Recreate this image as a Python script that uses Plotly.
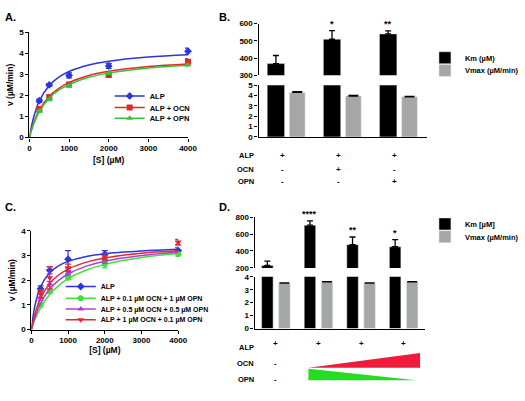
import plotly.graph_objects as go

W, H = 525, 401

# ---------------- data ----------------
S_points = [250, 500, 1000, 2000, 4000]
S_fit = [0, 100, 250, 500, 750, 1000, 1500, 2000, 3000, 4000]

# Panel A
A_alp = [1.75, 2.5, 2.95, 3.4, 4.1]
A_alp_err = [0.08, 0.06, 0.12, 0.12, 0.15]
A_ocn = [1.35, 1.92, 2.52, 2.97, 3.6]
A_ocn_err = [0.08, 0.08, 0.06, 0.08, 0.15]
A_opn = [1.25, 1.8, 2.45, 3.05, 3.45]
A_opn_err = [0.05, 0.05, 0.05, 0.05, 0.05]
A_alp_fit = [0, 0.91, 1.74, 2.47, 2.88, 3.14, 3.45, 3.63, 3.83, 3.94]
A_ocn_fit = [0, 0.65, 1.30, 1.96, 2.35, 2.62, 2.95, 3.15, 3.38, 3.50]
A_opn_fit = [0, 0.60, 1.23, 1.87, 2.26, 2.52, 2.86, 3.06, 3.30, 3.43]

# Panel B
B_groups = ["ALP", "ALP + OCN", "ALP + OPN"]
B_km = [368, 509, 540]
B_km_err = [47, 50, 18]
B_vmax = [4.3, 3.95, 3.88]
B_vmax_err = [0.08, 0.06, 0.04]
B_sig = ["", "*", "**"]
B_ocn_row = ["-", "+", "-"]
B_opn_row = ["-", "-", "+"]
B_alp_row = ["+", "+", "+"]

# Panel C
C_alp = [1.65, 2.4, 2.85, 3.05, 3.2]
C_alp_err = [0.12, 0.15, 0.35, 0.15, 0.12]
C_g = [1.0, 1.55, 2.1, 2.65, 3.05]
C_g_err = [0.08, 0.08, 0.08, 0.15, 0.08]
C_p = [1.3, 1.85, 2.3, 2.8, 3.45]
C_p_err = [0.12, 0.1, 0.1, 0.12, 0.12]
C_r = [1.45, 2.1, 2.5, 2.95, 3.55]
C_r_err = [0.15, 0.45, 0.15, 0.12, 0.1]
C_alp_fit = [0, 0.99, 1.73, 2.30, 2.59, 2.76, 2.96, 3.07, 3.18, 3.25]
C_g_fit = [0, 0.41, 0.88, 1.42, 1.79, 2.06, 2.41, 2.64, 2.92, 3.08]
C_p_fit = [0, 0.51, 1.06, 1.64, 2.00, 2.25, 2.57, 2.77, 3.00, 3.13]
C_r_fit = [0, 0.65, 1.27, 1.87, 2.22, 2.45, 2.73, 2.90, 3.09, 3.19]

# Panel D
D_groups = ["ALP", "ALP + 0.1 µM OCN + 1 µM OPN",
            "ALP + 0.5 µM OCN + 0.5 µM OPN", "ALP + 1 µM OCN + 0.1 µM OPN"]
D_km = [230, 705, 475, 450]
D_km_err = [50, 50, 90, 85]
D_vmax = [3.5, 3.6, 3.5, 3.6]
D_vmax_err = [0.03, 0.03, 0.03, 0.03]
D_sig = ["", "****", "**", "*"]

# ---------------- style ----------------
BLUE = "#2a36d8"
RED = "#e42630"
GREEN_A = "#36c236"
GREEN = "#3ee03e"
PURPLE = "#b43cd2"
GRAY = "#a6a6a6"
FONT = "Liberation Sans, Arial, sans-serif"


def px_x(p):
    return p / W


def px_y(p):
    return 1 - p / H


tickfont = dict(family=FONT, size=8, color="black", weight="bold")
axis_common = dict(showline=True, linecolor="black", linewidth=1.3, ticks="outside",
                   ticklen=3, tickwidth=1.2, tickcolor="black", showgrid=False,
                   zeroline=False, tickfont=tickfont)

fig = go.Figure()

legend_layouts = {}
legend_counter = [0]


def new_legend(xpx, ypx, size=7.5):
    legend_counter[0] += 1
    n = legend_counter[0]
    key = "legend" if n == 1 else f"legend{n}"
    legend_layouts[key] = dict(
        font=dict(family=FONT, size=size, color="black", weight="bold"),
        bgcolor="rgba(0,0,0,0)", xanchor="left", yanchor="middle",
        tracegroupgap=0, itemwidth=30, x=px_x(xpx), y=px_y(ypx))
    return key


def add_curve_panel(xa, ya, series, leg_x, leg_ys, size):
    for (name, color, sym, pts, err, fit), ly in zip(series, leg_ys):
        fig.add_trace(go.Scatter(x=S_fit, y=fit, mode="lines", line=dict(color=color, width=1.5, shape="spline"),
                                 xaxis=xa, yaxis=ya, showlegend=False, hoverinfo="skip"))
        fig.add_trace(go.Scatter(x=S_points, y=pts, mode="markers",
                                 marker=dict(color=color, symbol=sym, size=6),
                                 error_y=dict(type="data", array=err, color=color, thickness=1.2, width=3),
                                 xaxis=xa, yaxis=ya, showlegend=False, cliponaxis=False))
        fig.add_trace(go.Scatter(x=[None], y=[None], mode="lines+markers", name=name,
                                 line=dict(color=color, width=1.5), marker=dict(color=color, symbol=sym, size=6),
                                 xaxis=xa, yaxis=ya, legend=new_legend(leg_x, ly, size)))


add_curve_panel("x", "y", [
    ("ALP", BLUE, "diamond", A_alp, A_alp_err, A_alp_fit),
    ("ALP + OCN", RED, "square", A_ocn, A_ocn_err, A_ocn_fit),
    ("ALP + OPN", GREEN_A, "triangle-up", A_opn, A_opn_err, A_opn_fit),
], 110, [94, 106, 117], 7.5)
add_curve_panel("x4", "y4", [
    ("ALP", BLUE, "diamond", C_alp, C_alp_err, C_alp_fit),
    ("ALP + 0.1 µM OCN + 1 µM OPN", GREEN, "circle", C_g, C_g_err, C_g_fit),
    ("ALP + 0.5 µM OCN + 0.5 µM OPN", PURPLE, "triangle-up", C_p, C_p_err, C_p_fit),
    ("ALP + 1 µM OCN + 0.1 µM OPN", RED, "triangle-down", C_r, C_r_err, C_r_fit),
], 60, [289, 301, 312, 323], 7)


def add_bar_panel(groups, km, km_err, vmax, vmax_err, xlow, ylow, xup, yup, km_name, off, wk, wv,
                  leg_x, leg_ys):
    err_kw = dict(type="data", symmetric=False, color="black", thickness=1.3, width=3)
    fig.add_trace(go.Bar(x=groups, y=km, marker_color="black", offset=-off - wk / 2, width=wk,
                         error_y=dict(array=km_err, arrayminus=[0] * len(km), **err_kw),
                         xaxis=xup, yaxis=yup, showlegend=False))
    fig.add_trace(go.Bar(x=groups, y=km, marker_color="black", offset=-off - wk / 2, width=wk,
                         xaxis=xlow, yaxis=ylow, name=km_name, legend=new_legend(leg_x, leg_ys[0])))
    fig.add_trace(go.Bar(x=groups, y=vmax, marker_color=GRAY, offset=off - wv / 2, width=wv,
                         error_y=dict(array=vmax_err, arrayminus=[0] * len(vmax), **dict(err_kw, width=5)),
                         xaxis=xlow, yaxis=ylow, name="Vmax (µM/min)", legend=new_legend(leg_x, leg_ys[1])))


add_bar_panel(B_groups, B_km, B_km_err, B_vmax, B_vmax_err, "x2", "y2", "x3", "y3", "Km (µM)",
              0.19, 0.31, 0.28, 432, [55, 68])
add_bar_panel(D_groups, D_km, D_km_err, D_vmax, D_vmax_err, "x5", "y5", "x6", "y6", "Km [µM]",
              0.2, 0.27, 0.27, 432, [225, 238])

ann = []


def txt(x, y, t, size=8, xref="paper", yref="paper", xanchor="center", yanchor="middle", **kw):
    ann.append(dict(x=x, y=y, text=t, xref=xref, yref=yref, showarrow=False, xanchor=xanchor,
                    yanchor=yanchor, font=dict(family=FONT, size=size, color="black", weight="bold"), **kw))


# panel letters
txt(px_x(1), px_y(13), "A.", size=11, xanchor="left")
txt(px_x(220), px_y(13), "B.", size=11, xanchor="left")
txt(px_x(1), px_y(208), "C.", size=11, xanchor="left")
txt(px_x(220), px_y(208), "D.", size=11, xanchor="left")

# B rows
for lab, ypx in [("ALP", 155), ("OCN", 169), ("OPN", 182)]:
    txt(px_x(259), px_y(ypx), lab, size=7.5, xanchor="right")
for i, g in enumerate(B_groups):
    for row, ypx in [(B_alp_row, 155), (B_ocn_row, 169), (B_opn_row, 182)]:
        txt(i - 0.08, px_y(ypx), row[i], xref="x2")
    if B_sig[i]:
        txt(i - 0.19, B_km[i] + B_km_err[i], B_sig[i], size=9, xref="x3", yref="y3", yanchor="bottom")

# D rows
for lab, ypx in [("ALP", 351), ("OCN", 368), ("OPN", 384)]:
    txt(px_x(259), px_y(ypx), lab, size=7.5, xanchor="right")
for i, g in enumerate(D_groups):
    txt(i, px_y(347), "+", xref="x5")
    if D_sig[i]:
        txt(i - 0.2, D_km[i] + D_km_err[i], D_sig[i], size=9, xref="x6", yref="y6", yanchor="bottom")
txt(0, px_y(368), "-", xref="x5")
txt(0, px_y(384), "-", xref="x5")


def tri(points, color):
    path = "M " + " L ".join(f"{px_x(a)},{px_y(b)}" for a, b in points) + " Z"
    return dict(type="path", path=path, xref="paper", yref="paper", fillcolor=color,
                line=dict(width=0), layer="above")


shapes = [tri([(313, 372), (427, 372), (427, 357)], "#ee1c3a"),
          tri([(313, 373), (313, 385), (423, 385)], "#22dd22")]

title_font = dict(family=FONT, size=8.5, color="black", weight="bold")

fig.update_layout(
    width=W, height=H, margin=dict(l=0, r=0, t=0, b=0),
    paper_bgcolor="white", plot_bgcolor="white",
    barmode="overlay", showlegend=True,
    annotations=ann, shapes=shapes,
    # A
    xaxis=dict(axis_common, domain=[px_x(28), px_x(190)], range=[0, 4000], tickvals=[0, 1000, 2000, 3000, 4000],
               anchor="y", title=dict(text="[S] (µM)", font=title_font, standoff=4)),
    yaxis=dict(axis_common, domain=[px_y(136.5), px_y(29)], range=[0, 5], dtick=1, anchor="x",
               title=dict(text="v (µM/min)", font=title_font, standoff=4)),
    # B lower
    xaxis2=dict(axis_common, domain=[px_x(262), px_x(434)], range=[-0.5, 2.5], ticks="", showticklabels=False,
                anchor="y2", type="category"),
    yaxis2=dict(axis_common, domain=[px_y(136), px_y(83)], range=[0, 5], dtick=1, anchor="x2"),
    # B upper
    xaxis3=dict(domain=[px_x(262), px_x(434)], range=[-0.5, 2.5], visible=False, anchor="y3",
                type="category", matches="x2"),
    yaxis3=dict(axis_common, domain=[px_y(73), px_y(20)], range=[300, 600], tickvals=[300, 400, 500, 600],
                anchor="x3"),
    # C
    xaxis4=dict(axis_common, domain=[px_x(30), px_x(180)], range=[0, 4000], tickvals=[0, 1000, 2000, 3000, 4000],
                anchor="y4", title=dict(text="[S] (µM)", font=title_font, standoff=2)),
    yaxis4=dict(axis_common, domain=[px_y(333), px_y(232)], range=[0, 4], dtick=1, anchor="x4",
                title=dict(text="v (µM/min)", font=title_font, standoff=4)),
    # D lower
    xaxis5=dict(axis_common, domain=[px_x(258), px_x(432)], range=[-0.5, 3.5], ticks="", showticklabels=False,
                anchor="y5", type="category"),
    yaxis5=dict(axis_common, domain=[px_y(332), px_y(279)], range=[0, 4], dtick=1, anchor="x5"),
    # D upper
    xaxis6=dict(domain=[px_x(258), px_x(432)], range=[-0.5, 3.5], visible=False, anchor="y6",
                type="category", matches="x5"),
    yaxis6=dict(axis_common, domain=[px_y(270), px_y(218)], range=[200, 800], tickvals=[200, 400, 600, 800],
                anchor="x6"),
    **legend_layouts,
)

fig.write_html("out.html")
